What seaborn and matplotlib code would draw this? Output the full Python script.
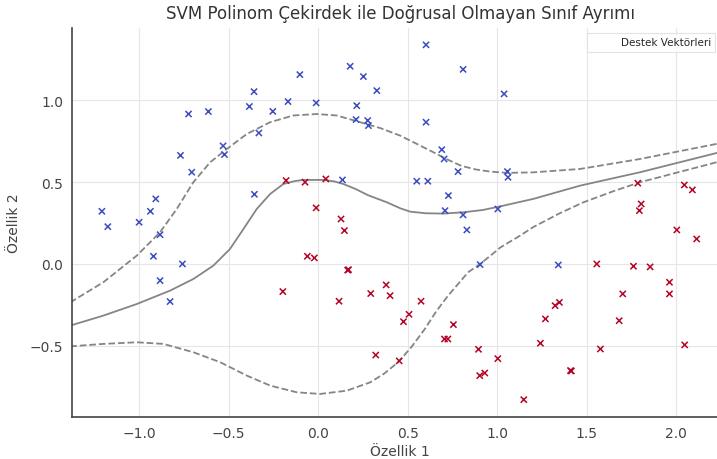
import numpy as np
import pandas as pd
import matplotlib
matplotlib.use("Agg")
import matplotlib.pyplot as plt
import seaborn as sns

# ---- data ----
blue_x = [-1.208, -1.175, -1.0, -0.937, -0.907, -0.883, -0.92, -0.758, -0.883, -0.827,
          -0.769, -0.706, -0.724, -0.613, -0.531, -0.523, -0.384, -0.358, -0.331, -0.356,
          -0.253, -0.168, -0.102, -0.011, 0.136, 0.179, 0.253, 0.328, 0.216, 0.212,
          0.277, 0.281, 0.603, 0.81, 1.039, 0.603, 0.691, 0.704, 0.782, 1.058,
          1.061, 0.551, 0.613, 0.728, 0.709, 0.81, 1.004, 0.831, 0.905, 1.342]
blue_y = [0.322, 0.228, 0.255, 0.322, 0.398, 0.179, 0.047, 0.0, -0.102, -0.23,
          0.664, 0.561, 0.917, 0.932, 0.722, 0.669, 0.963, 1.054, 0.801, 0.426,
          0.933, 0.993, 1.158, 0.985, 0.514, 1.209, 1.146, 1.06, 0.968, 0.883,
          0.877, 0.846, 1.34, 1.19, 1.04, 0.867, 0.699, 0.642, 0.565, 0.565,
          0.53, 0.506, 0.506, 0.418, 0.326, 0.3, 0.336, 0.208, -0.004, -0.006]

red_x = [-0.179, -0.073, 0.043, -0.011, 0.128, 0.147, -0.06, -0.021, 0.17, 0.165,
         -0.197, 0.117, 0.294, 0.38, 0.402, 0.575, 0.508, 0.477, 0.322, 0.453,
         0.756, 0.706, 0.725, 0.896, 1.004, 0.903, 0.931, 1.149, 1.242, 1.27,
         1.324, 1.348, 1.41, 1.415, 1.557, 1.577, 1.682, 1.702, 1.762, 1.855,
         1.963, 1.963, 2.048, 2.004, 2.115, 1.786, 2.046, 2.091, 1.805, 1.795]
red_y = [0.51, 0.50, 0.52, 0.343, 0.275, 0.204, 0.047, 0.037, -0.035, -0.038,
         -0.169, -0.228, -0.181, -0.128, -0.194, -0.228, -0.308, -0.353, -0.557, -0.593,
         -0.371, -0.459, -0.459, -0.522, -0.579, -0.683, -0.667, -0.83, -0.485, -0.336,
         -0.255, -0.235, -0.652, -0.655, 0.0, -0.52, -0.347, -0.183, -0.014, -0.018,
         -0.112, -0.183, -0.495, 0.208, 0.153, 0.494, 0.483, 0.453, 0.367, 0.326]

# decision boundary (level 0)
bound_x = [-1.385, -1.2, -1.013, -0.827, -0.697, -0.585, -0.492, -0.417, -0.343, -0.268,
           -0.194, -0.13, -0.082, 0.03, 0.09, 0.141, 0.21, 0.28, 0.384, 0.46,
           0.514, 0.6, 0.7, 0.812, 0.92, 1.017, 1.203, 1.464, 1.799, 2.29]
bound_y = [-0.377, -0.316, -0.245, -0.163, -0.092, -0.01, 0.092, 0.214, 0.336, 0.428,
           0.489, 0.507, 0.514, 0.514, 0.505, 0.489, 0.458, 0.42, 0.377, 0.34,
           0.32, 0.31, 0.308, 0.316, 0.33, 0.352, 0.398, 0.479, 0.561, 0.696]

# upper margin
upper_x = [-1.385, -1.2, -1.013, -0.883, -0.79, -0.697, -0.603, -0.51, -0.398, -0.268,
           -0.138, -0.007, 0.104, 0.235, 0.35, 0.458, 0.55, 0.644, 0.72, 0.8,
           0.88, 0.96, 1.054, 1.2, 1.464, 1.799, 2.29]
upper_y = [-0.235, -0.112, 0.051, 0.194, 0.336, 0.5, 0.622, 0.703, 0.795, 0.867,
           0.908, 0.917, 0.908, 0.867, 0.83, 0.785, 0.735, 0.683, 0.64, 0.6,
           0.578, 0.565, 0.557, 0.56, 0.581, 0.642, 0.748]

# lower margin
lower_x = [-1.385, -1.2, -1.013, -0.864, -0.697, -0.547, -0.398, -0.268, -0.119, 0.011,
           0.16, 0.291, 0.37, 0.447, 0.52, 0.596, 0.66, 0.726, 0.838, 0.905,
           0.968, 1.017, 1.128, 1.203, 1.35, 1.482, 1.65, 1.799, 2.29]
lower_y = [-0.504, -0.489, -0.479, -0.489, -0.54, -0.601, -0.683, -0.744, -0.785, -0.795,
           -0.775, -0.724, -0.67, -0.601, -0.51, -0.398, -0.29, -0.194, -0.051, 0.0,
           0.055, 0.1, 0.173, 0.226, 0.31, 0.377, 0.445, 0.5, 0.64]

title = "SVM Polinom Çekirdek ile Doğrusal Olmayan Sınıf Ayrımı"
xlabel = "Özellik 1"
ylabel = "Özellik 2"
legend_label = "Destek Vektörleri"
xticks = [-1.0, -0.5, 0.0, 0.5, 1.0, 1.5, 2.0]
yticks = [-0.5, 0.0, 0.5, 1.0]

# ---- plot ----
sns.set_style("whitegrid")
plt.rcParams['font.family'] = ['DejaVu Sans']

fig = plt.figure(figsize=(7.17, 4.60), dpi=100)
ax = fig.add_axes([72/717, 42/460, 656/717, 389/460])

pts = pd.DataFrame({
    "x": blue_x + red_x,
    "y": blue_y + red_y,
    "cls": ["0"] * len(blue_x) + ["1"] * len(red_x),
})

lines = [(bound_x, bound_y, "-"), (upper_x, upper_y, "--"), (lower_x, lower_y, "--")]
for lx, ly, ls in lines:
    sns.lineplot(x=lx, y=ly, ax=ax, color="#858585", linestyle=ls, linewidth=1.3,
                 sort=False, estimator=None, legend=False)

sns.scatterplot(data=pts, x="x", y="y", hue="cls",
                palette={"0": "#3b4cc0", "1": "#b40426"},
                marker="x", s=20, linewidth=1.1, ax=ax, legend=False, zorder=3)

ax.scatter([], [], facecolors="none", edgecolors="none", s=100, label=legend_label)

ax.set_xlim(-1.375, 2.29)
ax.set_ylim(-0.936, 1.443)
ax.set_xticks(xticks)
ax.set_yticks(yticks)
ax.set_xlabel(xlabel, fontsize=10, color="#444444", labelpad=3)
ax.set_ylabel(ylabel, fontsize=10, color="#444444", labelpad=6)
ax.set_title(title, fontsize=12, color="#333333", pad=7)

ax.grid(True, color="#e6e6e6", linewidth=0.8)
for side in ["top", "right"]:
    ax.spines[side].set_visible(False)
for side in ["left", "bottom"]:
    ax.spines[side].set_color("#444444")
    ax.spines[side].set_linewidth(1.2)
ax.tick_params(axis="both", labelsize=10, colors="#444444", length=3, width=0.8,
               labelcolor="#444444")

leg = ax.legend(loc="upper right", bbox_to_anchor=(0.988, 1.0), fontsize=7.5,
                frameon=True, fancybox=False)
leg.get_frame().set_edgecolor("#dddddd")
leg.get_frame().set_linewidth(0.8)

fig.savefig("out.png", dpi=100)
